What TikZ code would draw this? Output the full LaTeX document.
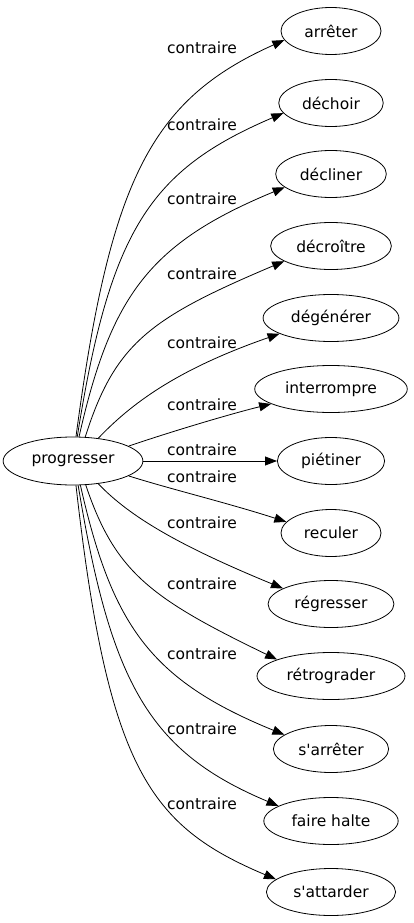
\documentclass[tikz,border=0pt]{standalone}
\usepackage{fontspec}
\setmainfont{DejaVu Sans}
\usetikzlibrary{arrows.meta,shapes.geometric}

\begin{document}
\begin{tikzpicture}[
  x=1pt, y=-1pt,
  font=\fontsize{15.5}{18}\selectfont,
  term/.style = {draw, ellipse, line width=0.8pt, inner xsep=8pt, inner ysep=2pt,
                 minimum width=100pt, minimum height=47pt},
  head/.style = {term, minimum width=137pt, minimum height=48pt},
  lab/.style  = {inner sep=0pt},
  ar/.style   = {-{Triangle[length=12pt,width=9pt]}, line width=0.8pt},
]
\useasboundingbox (0,0) rectangle (413,923);

% ---- source ----------------------------------------------------------------
\node[head] (prog) at (73,461) {progresser};

% ---- opposites -------------------------------------------------------------
\node[term] (arreter)  at (331,31)  {arrêter};
\node[term] (dechoir)  at (331,103) {déchoir};
\node[term] (decliner) at (331,174) {décliner};
\node[term] (decroit)  at (331,246) {décroître};
\node[term] (degener)  at (331,318) {dégénérer};
\node[term] (interr)   at (331,389) {interrompre};
\node[term] (pietiner) at (331,461) {piétiner};
\node[term] (reculer)  at (331,533) {reculer};
\node[term] (regress)  at (331,604) {régresser};
\node[term] (retrog)   at (331,676) {rétrograder};
\node[term] (sarreter) at (331,749) {s\textquotesingle arrêter};
\node[term] (halte)    at (331,821) {faire halte};
\node[term] (sattard)  at (331,892) {s\textquotesingle attarder};

% ---- edge labels -----------------------------------------------------------
\node[lab] (l1)  at (202,48)  {contraire};
\node[lab] (l2)  at (202,125) {contraire};
\node[lab] (l3)  at (202,199) {contraire};
\node[lab] (l4)  at (202,274) {contraire};
\node[lab] (l5)  at (202,343) {contraire};
\node[lab] (l6)  at (202,405) {contraire};
\node[lab] (l7)  at (202,450) {contraire};
\node[lab] (l8)  at (202,477) {contraire};
\node[lab] (l9)  at (202,523) {contraire};
\node[lab] (l10) at (202,584) {contraire};
\node[lab] (l11) at (202,654) {contraire};
\node[lab] (l12) at (202,729) {contraire};
\node[lab] (l13) at (202,804) {contraire};

% ---- edges -----------------------------------------------------------------
\draw[ar] (prog.83) .. controls (110,181) and (150,100) .. (arreter.191);
\draw[ar] (prog.80) .. controls (110,230) and (150,170) .. (dechoir.192);
\draw[ar] (prog.76) .. controls (111,295) and (150,243) .. (decliner.196);
\draw[ar] (prog.63) .. controls (115,343) and (150,318) .. (decroit.198);
\draw[ar] (prog.42) .. controls (130,405) and (175,370) .. (degener.197);
\draw[ar] (prog.15) .. controls (170,432) and (230,414) .. (interr.194);
\draw[ar] (prog) -- (pietiner);
\draw[ar] (prog.-15) .. controls (170,489) and (228,503) .. (reculer.166);
\draw[ar] (prog.-42) .. controls (130,517) and (180,546) .. (regress.162);
\draw[ar] (prog.-62) .. controls (115,572) and (150,598) .. (retrog.163);
\draw[ar] (prog.-73) .. controls (112,625) and (150,680) .. (sarreter.163);
\draw[ar] (prog.-78) .. controls (111,685) and (150,752) .. (halte.164);
\draw[ar] (prog.-83) .. controls (108,770) and (150,826) .. (sattard.167);

\end{tikzpicture}
\end{document}
